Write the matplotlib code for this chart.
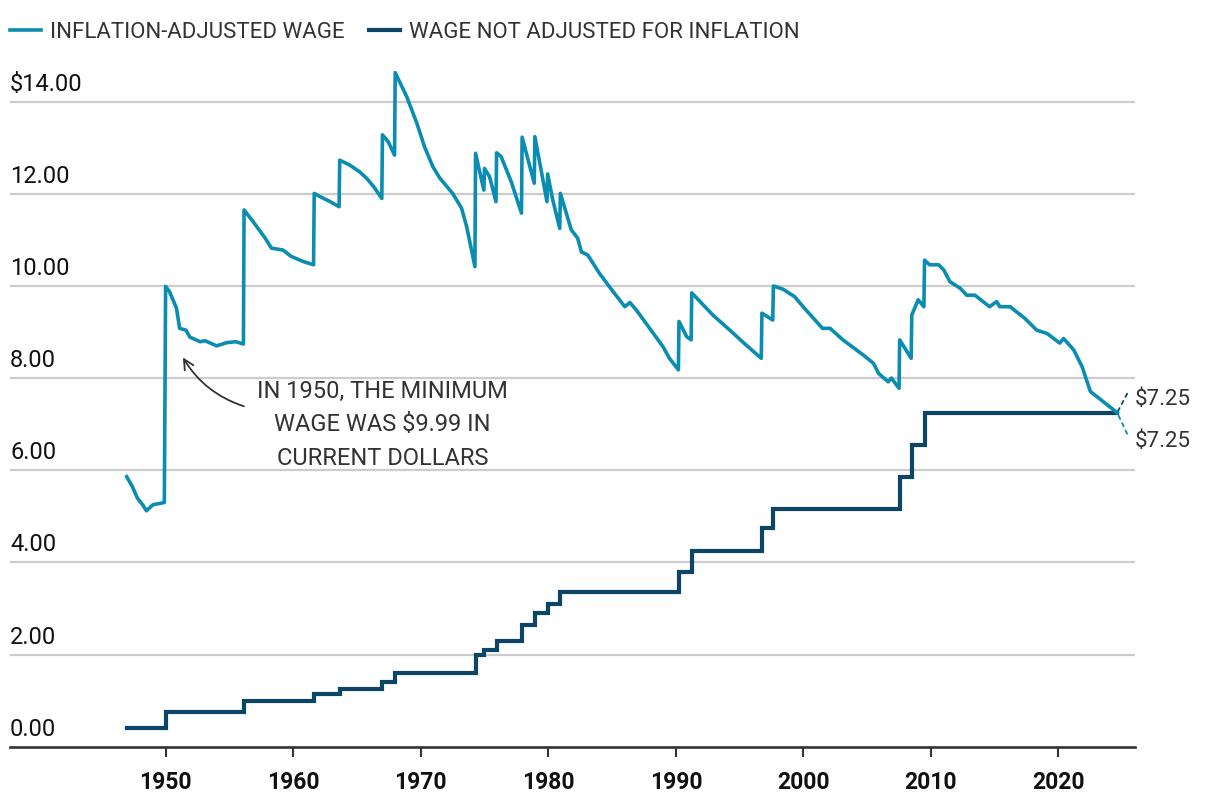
import matplotlib
matplotlib.use("Agg")
import matplotlib.pyplot as plt
from matplotlib.lines import Line2D

# ---------------- data ----------------
real_years = [1946.95, 1947.4, 1947.8, 1948.2, 1948.5, 1949.0, 1949.9,
              1950.0, 1950.3, 1950.85, 1951.1, 1951.6, 1951.9, 1952.7, 1953.1, 1954.0, 1954.8, 1955.5, 1956.1,
              1956.15, 1956.85, 1957.8, 1958.3, 1959.2, 1959.85, 1960.8, 1961.6,
              1961.65, 1962.1, 1962.9, 1963.6,
              1963.65, 1964.4, 1965.2, 1965.75, 1966.3, 1966.95,
              1967.0, 1967.45, 1967.95,
              1968.0, 1968.9, 1969.7, 1970.3, 1970.95, 1971.5, 1972.5, 1973.2, 1973.6, 1974.25,
              1974.3, 1974.95,
              1975.0, 1975.4, 1975.9,
              1975.95, 1976.3, 1977.1, 1977.9,
              1977.95, 1978.9,
              1978.95, 1979.9,
              1979.95, 1980.35, 1980.9,
              1980.95, 1981.5, 1981.8, 1982.3, 1982.6, 1983.1, 1984.0, 1984.8, 1986.0, 1986.4, 1986.9,
              1987.95, 1989.0, 1989.5, 1990.2,
              1990.25, 1990.85, 1991.2,
              1991.25, 1992.9, 1994.2, 1995.5, 1996.7,
              1996.75, 1997.6,
              1997.65, 1998.4, 1999.3, 2000.2, 2001.5, 2002.1, 2003.1, 2004.7, 2005.5, 2005.9, 2006.65,
              2006.9, 2007.5,
              2007.55, 2008.45,
              2008.5, 2009.0, 2009.45,
              2009.5, 2009.9, 2010.6, 2011.0, 2011.5, 2012.3, 2012.8, 2013.45, 2014.6, 2015.15, 2015.4,
              2016.2, 2017.35, 2018.3, 2019.1, 2020.1, 2020.4, 2021.2, 2021.85, 2022.5, 2023.5, 2024.6]
real_values = [5.86, 5.64, 5.39, 5.25, 5.12, 5.25, 5.30,
               9.99, 9.88, 9.52, 9.08, 9.04, 8.89, 8.79, 8.81, 8.70, 8.77, 8.79, 8.74,
               11.65, 11.40, 11.04, 10.82, 10.78, 10.64, 10.53, 10.46,
               12.01, 11.94, 11.83, 11.72,
               12.73, 12.63, 12.48, 12.34, 12.16, 11.90,
               13.28, 13.13, 12.84,
               14.63, 14.11, 13.53, 13.02, 12.59, 12.34, 12.01, 11.69, 11.29, 10.42,
               12.88, 12.08,
               12.55, 12.37, 11.83,
               12.89, 12.81, 12.26, 11.58,
               13.23, 12.23,
               13.24, 11.83,
               12.43, 11.87, 11.25,
               12.01, 11.50, 11.22, 11.04, 10.74, 10.67, 10.28, 9.98, 9.55, 9.64, 9.48,
               9.08, 8.68, 8.43, 8.18,
               9.23, 8.90, 8.83,
               9.85, 9.37, 9.05, 8.72, 8.43,
               9.41, 9.26,
               10.00, 9.93, 9.77, 9.48, 9.08, 9.08, 8.83, 8.50, 8.32, 8.10, 7.92,
               8.00, 7.78,
               8.83, 8.43,
               9.37, 9.70, 9.55,
               10.56, 10.46, 10.46, 10.35, 10.09, 9.95, 9.80, 9.80, 9.55, 9.66, 9.55,
               9.55, 9.30, 9.04, 8.97, 8.76, 8.86, 8.61, 8.25, 7.71, 7.49, 7.25]

nominal_years = [1947.0, 1950.0, 1956.15, 1961.65, 1963.65, 1967.0, 1968.0, 1974.3, 1975.0,
                 1975.95, 1977.95, 1978.95, 1979.95, 1980.95, 1990.25, 1991.25, 1996.75,
                 1997.65, 2007.55, 2008.5, 2009.5, 2024.6]
nominal_values = [0.40, 0.75, 1.00, 1.15, 1.25, 1.40, 1.60, 2.00, 2.10,
                  2.30, 2.65, 2.90, 3.10, 3.35, 3.80, 4.25, 4.75,
                  5.15, 5.85, 6.55, 7.25, 7.25]

series_labels = ["INFLATION-ADJUSTED WAGE", "WAGE NOT ADJUSTED FOR INFLATION"]
x_ticks = [1950, 1960, 1970, 1980, 1990, 2000, 2010, 2020]
y_ticks = [0, 2, 4, 6, 8, 10, 12, 14]
y_tick_labels = ["0.00", "2.00", "4.00", "6.00", "8.00", "10.00", "12.00", "$14.00"]
end_labels = ["$7.25", "$7.25"]
annotation_text = "IN 1950, THE MINIMUM\nWAGE WAS $9.99 IN\nCURRENT DOLLARS"

# ---------------- style ----------------
TEAL = "#0a8db1"
NAVY = "#0c4566"
TXT = "#333333"
NARROW = ["Liberation Sans Narrow", "Roboto", "DejaVu Sans"]

fig = plt.figure(figsize=(12.2, 8.06), dpi=100)
ax = fig.add_axes([10 / 1220, 1 - 746.7 / 806, 1125 / 1220, (746.7 - 55.6) / 806])
ax.set_xlim(1937.8, 2026.0)
ax.set_ylim(0, 15)

for v in y_ticks[1:]:
    ax.axhline(v, color="#cccccc", lw=1.6, zorder=1)

ax.plot(nominal_years, nominal_values, drawstyle="steps-post", color=NAVY, lw=3.0,
        solid_joinstyle="miter", zorder=3)
ax.plot(real_years, real_values, color=TEAL, lw=2.6, solid_joinstyle="round", zorder=4)

for s in ["top", "right", "left"]:
    ax.spines[s].set_visible(False)
ax.spines["bottom"].set_color("#333333")
ax.spines["bottom"].set_linewidth(1.9)
ax.set_yticks([])
ax.set_xticks(x_ticks)
ax.set_xticklabels([str(t) for t in x_ticks], fontfamily="Roboto", fontweight="bold",
                   fontsize=16.5, color="#111111")
ax.tick_params(axis="x", length=7.5, width=1.5, color="#333333", pad=10)

for v, lab in zip(y_ticks, y_tick_labels):
    ax.annotate(lab, xy=(0, v), xycoords=("axes fraction", "data"), xytext=(0, 6),
                textcoords="offset pixels", ha="left", va="bottom", fontsize=17,
                family="Roboto", color="#111111")

# legend
handles = [Line2D([], [], color=TEAL, lw=2.6), Line2D([], [], color=NAVY, lw=3.0)]
leg = fig.legend(handles, series_labels, loc="upper left",
                 bbox_to_anchor=(10 / 1220, 1 - 22 / 806),
                 ncol=2, frameon=False, handlelength=1.4, handletextpad=0.4,
                 columnspacing=1.1, borderaxespad=0.0, borderpad=0.0,
                 prop={"family": NARROW, "size": 16})
for t in leg.get_texts():
    t.set_color(TXT)

# annotation arrow
ax.annotate("", xy=(1951.25, 8.50), xytext=(1956.35, 7.37),
            arrowprops=dict(arrowstyle="->", color=TXT, lw=1.3,
                            connectionstyle="arc3,rad=-0.2", mutation_scale=18))
ax.text(1967.0, 7.97, annotation_text, ha="center", va="top", family=NARROW,
        fontsize=17, color=TXT, linespacing=1.6)

# end labels
end_x = nominal_years[-1]
end_y = nominal_values[-1]
ax.annotate("", xy=(end_x, end_y), xytext=(10, 19), textcoords="offset pixels",
            arrowprops=dict(arrowstyle="-", color=NAVY, lw=1.3, linestyle=(0, (2, 2.5)),
                            shrinkA=0, shrinkB=0), annotation_clip=False)
ax.annotate("", xy=(end_x, end_y), xytext=(10, -21), textcoords="offset pixels",
            arrowprops=dict(arrowstyle="-", color=TEAL, lw=1.3, linestyle=(0, (2, 2.5)),
                            shrinkA=0, shrinkB=0), annotation_clip=False)
ax.annotate(end_labels[0], xy=(end_x, end_y), xytext=(18, 13), textcoords="offset pixels",
            ha="left", va="center", family=NARROW, fontsize=16, color=TXT,
            annotation_clip=False)
ax.annotate(end_labels[1], xy=(end_x, end_y), xytext=(18, -29), textcoords="offset pixels",
            ha="left", va="center", family=NARROW, fontsize=16, color=TXT,
            annotation_clip=False)

fig.savefig("out.png", dpi=100)
